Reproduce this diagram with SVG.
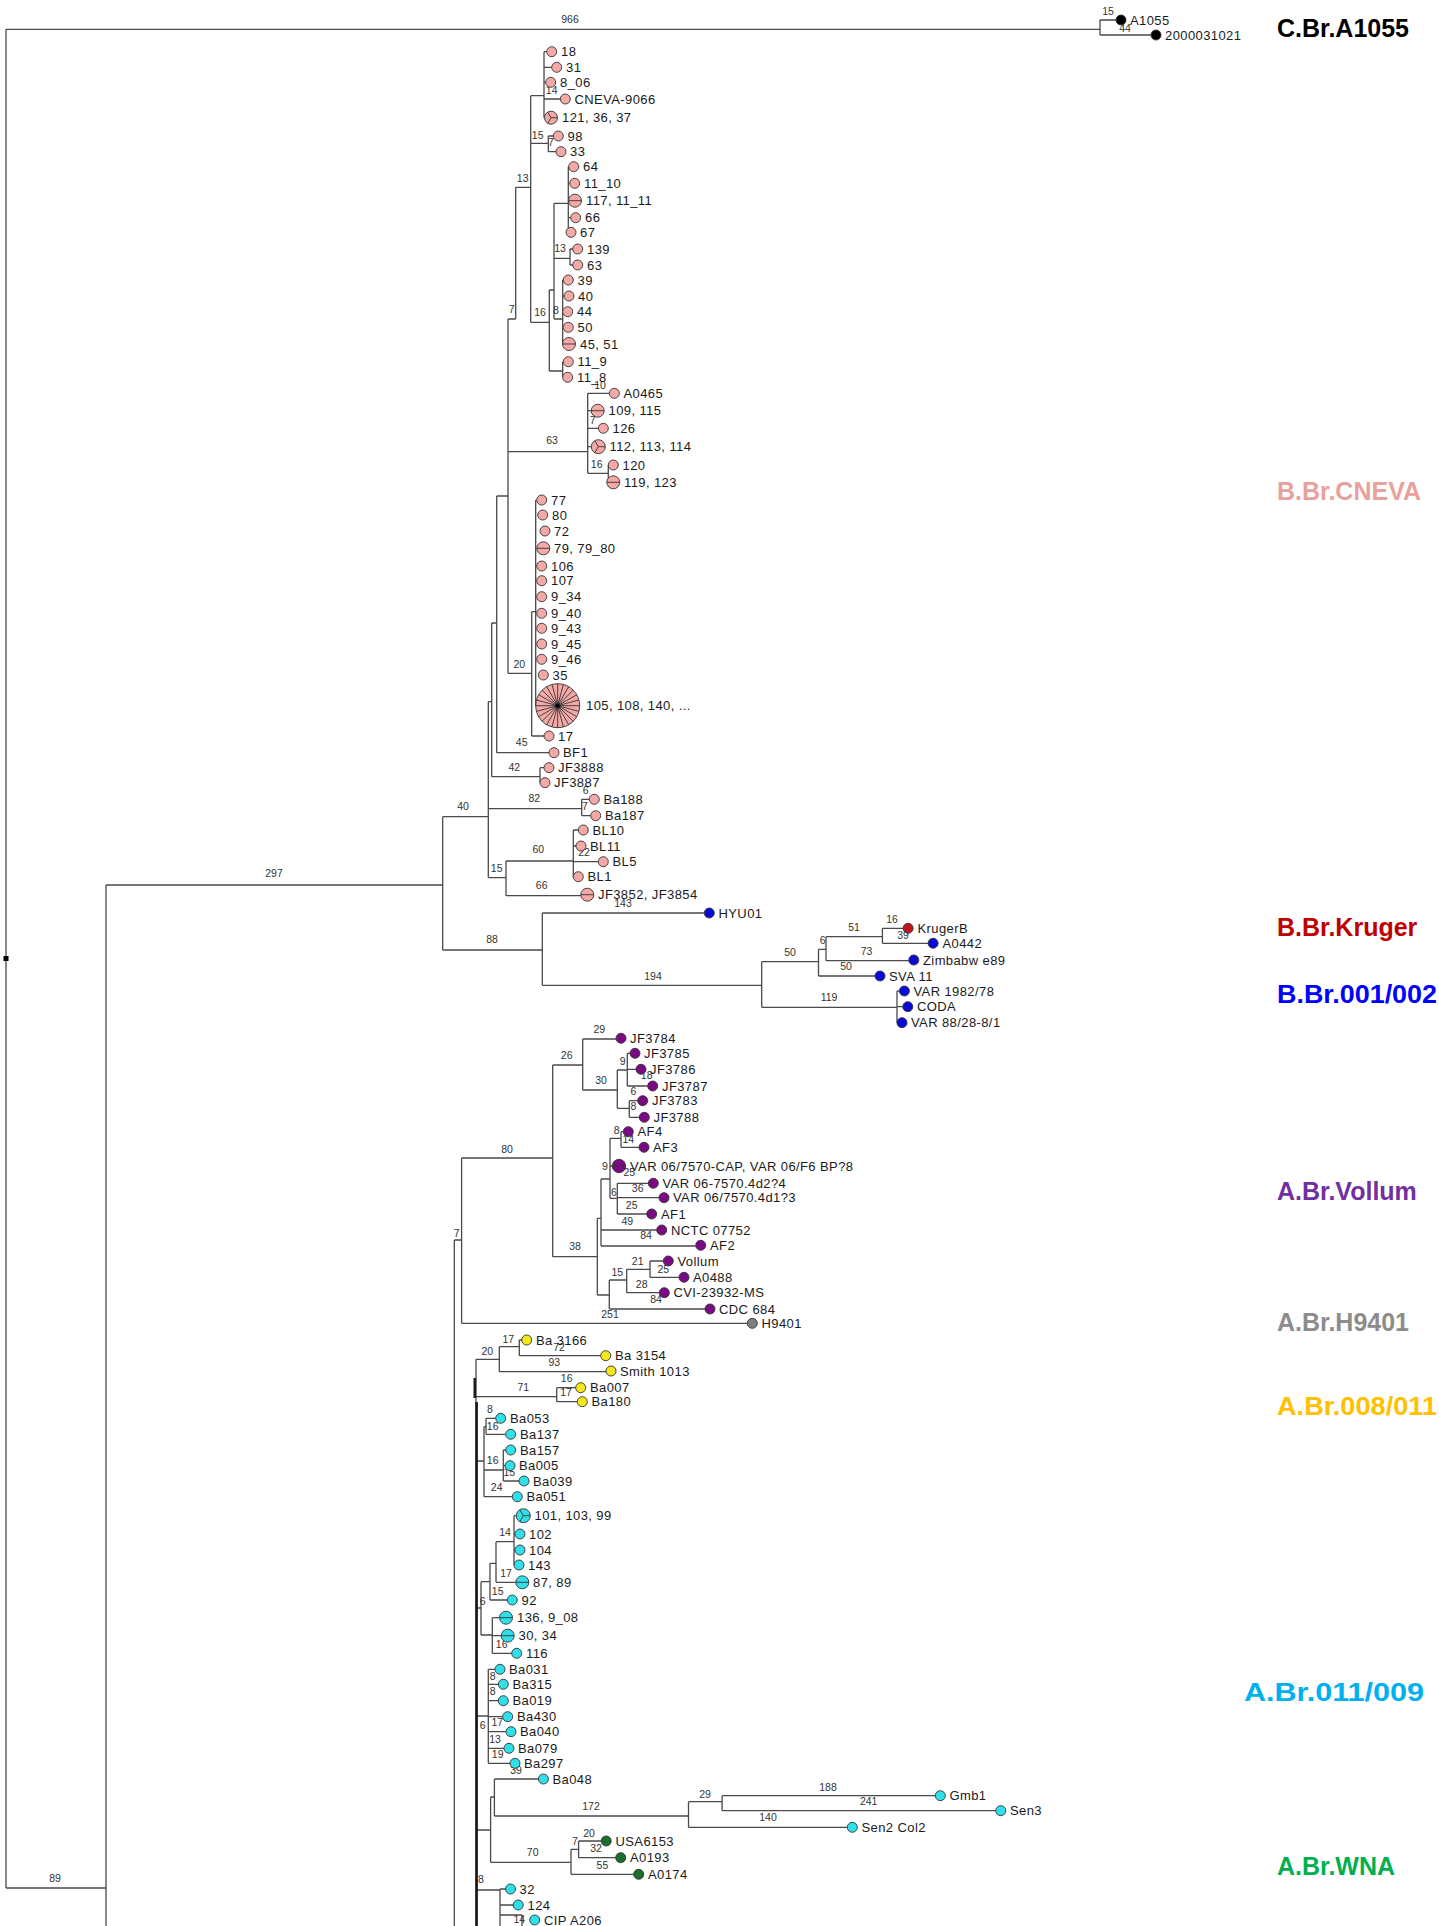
<svg xmlns="http://www.w3.org/2000/svg" width="1439" height="1926" viewBox="0 0 1439 1926">
<style>
.e{fill:none;stroke:#4a4a4a;stroke-width:1.3}
.bl{font-family:"Liberation Sans",Arial,sans-serif;font-size:10.5px;fill:#333;text-anchor:middle}
.lf{font-family:"Liberation Sans",Arial,sans-serif;font-size:13px;fill:#1a1a1a;letter-spacing:0.4px}
.cl{font-family:"Liberation Sans",Arial,sans-serif;font-size:25px;font-weight:bold}
circle{stroke:#333;stroke-width:0.9}
.p{fill:#f4a9a7}.b{fill:#0a0ad8}.r{fill:#c4121c}.v{fill:#7a0a84}.g{fill:#7f7f7f}.y{fill:#f6e61c}.c{fill:#30e0e8}.w{fill:#1b6e2c}.k{fill:#000}
.pl{fill:none;stroke:#333;stroke-width:0.9}
</style>
<rect width="1439" height="1926" fill="#fff"/>
<g id="connectors">
<path class="e" d="M6,29.3V1888M6,29.3H1100M1100,20V35M1100,20H1116M1100,35H1151M6,1888H106M106,885V1926M106,885H442.7
M442.7,816.7V950M442.7,816.7H488.3M442.7,950H542.3
M488.3,701.7V877.7M488.3,701.7H491.7M488.3,808.7H581.7M488.3,877.7H506
M491.7,623V776.7M491.7,623H496.7M491.7,776.7H540
M540,767.7V782.7M540,767.7H544
M496.7,496V752.7M496.7,496H508M496.7,752.7H549
M581.7,799.3V815.7M581.7,799.3H589.3M581.7,815.7H590.7
M506,861V895.7M506,861H573.3M506,895.7H580.8
M573.3,830V876.7M573.3,830H578.3M573.3,846H576M573.3,861.7H598.3
M508,319V673.3M508,319H515.7M508,451.7H587.7M508,673.3H531.7
M515.7,187.3V319M515.7,187.3H530.7
M530.7,95.7V322.3M530.7,95.7H544M530.7,143.3H548.3M530.7,322.3H549.3
M544,51.7V117.7M544,51.7H546.7M544,67.3H551.7M544,82.3H545.7M544,99H560.3
M548.3,136V151.7M548.3,136H553.3M548.3,151.7H556
M549.3,290V371M549.3,290H554M549.3,371H562.7
M554,203.3V319M554,203.3H568.3M554,258.3H570M554,319H562.7
M568.3,166.7V232.3M568.3,166.7H568.7M568.3,183.3H569.7M568.3,217.7H570.7
M570,249V265M570,249H572.7M570,265H572.7
M562.7,280V344M562.7,280H563.3M562.7,296H564M562.7,327.3H563.3
M562.7,361.7V377.3M562.7,361.7H563.3
M587.7,393.3V473.3M587.7,393.3H609.3M587.7,410.7H591.2M587.7,428.3H598.3M587.7,446.7H591.3M587.7,473.3H608.3
M608.3,465V482.3
M531.7,611.7V736M531.7,611.7H535.7M531.7,736H544
M535.7,500V705.7
M542.3,913V985.3M542.3,913H704.3M542.3,985.3H761.7
M761.7,961.7V1007.3M761.7,961.7H818.5M761.7,1007.3H897
M897,991V1022.7M897,991H899.4M897,1006.7H902.8
M818.5,949.3V976M818.5,949.3H826M818.5,976H875
M826,936.7V960.7M826,936.7H882.4M826,960.7H908.8
M882.4,928.3V943.3M882.4,928.3H903.1M882.4,943.3H928.1
M454.3,1240V1926M454.3,1240H461.6
M461.6,1158V1323.3M461.6,1158H552.7M461.6,1323.3H747.3
M552.7,1065V1256.7M552.7,1065H582.7M552.7,1256.7H597.3
M582.7,1039V1090M582.7,1039H616M582.7,1090H617.3
M617.3,1070V1108.3M617.3,1070H627.3M617.3,1108.3H629.3
M627.3,1053.3V1086M627.3,1053.3H630M627.3,1069.3H636M627.3,1086H647.7
M629.3,1100.7V1117.3M629.3,1100.7H637.7M629.3,1117.3H639.3
M597.3,1218.3V1295M597.3,1218.3H601M597.3,1295H609.3
M601,1179V1246M601,1179H610M601,1230H656.7M601,1246H695.7
M610,1138.3V1198.3M610,1138.3H621M610,1166H612.3M610,1198.3H617.3
M621,1131.7V1147.3M621,1131.7H623.3M621,1147.3H639
M617.3,1183.3V1214M617.3,1183.3H648.3M617.3,1197.7H659M617.3,1214H646.7
M609.3,1280V1309M609.3,1280H626.7M609.3,1309H705
M626.7,1269.3V1292.7M626.7,1269.3H650M626.7,1292.7H659.3
M650,1261V1277.3M650,1261H663.3M650,1277.3H679
M476,1359.3V1926M476,1359.3H499.3
M499.3,1346.7V1371.7M499.3,1346.7H519.3M499.3,1371.7H606
M519.3,1340V1355.7M519.3,1340H521.7M519.3,1355.7H600.7
M476,1396.7H556.7M556.7,1387.7V1401.7M556.7,1387.7H575.7M556.7,1401.7H577.3
M476,1461H484M484,1426.7V1496.7M484,1426.7H486M484,1470H503.3M484,1496.7H512.3
M486,1418.3V1434.3M486,1418.3H495.7M486,1434.3H505.7
M503.3,1450V1481M503.3,1450H505.7M503.3,1465.7H505M503.3,1481H519
M476,1608H481M481,1581.7V1635M481,1581.7H490M481,1635H492.3
M490,1563.3V1600M490,1563.3H496M490,1600H507.3
M496,1541.7V1582.3M496,1541.7H514M496,1582.3H515.8
M514,1515.7V1565M514,1515.7H516.3M514,1534H515M514,1550H515
M492.3,1617.7V1653.3M492.3,1617.7H499.5M492.3,1635.7H501.2M492.3,1653.3H511.7
M476,1716H488.3M488.3,1669.3V1763.3M488.3,1669.3H495M488.3,1684.3H498.3M488.3,1700.7H498.3M488.3,1716.7H502.7M488.3,1731.7H506M488.3,1748.3H504M488.3,1763.3H510
M476,1830H490.6M490.6,1797V1862.3M490.6,1797H494.4M490.6,1862.3H571
M494.4,1779V1816M494.4,1779H538.4M494.4,1816H688.5
M688.5,1801.7V1827.3M688.5,1801.7H722.1M688.5,1827.3H847.3
M722.1,1795.7V1810.7M722.1,1795.7H935.3M722.1,1810.7H995.8
M571,1849.3V1874.3M571,1849.3H578.6M571,1874.3H633.7
M578.6,1841V1857.7M578.6,1841H601.2M578.6,1857.7H615.7
M476,1890H500M500,1889V1926M500,1889H505.5M500,1905H513.2M500,1915H522M522,1915V1926"/>
<path d="M474.8,1378V1398M476.6,1402V1926" stroke="#1a1a1a" stroke-width="2.6" fill="none"/>
<rect x="3.5" y="956" width="5" height="5" fill="#000"/>
<g id="branch-labels">
<text class="bl" x="570" y="23">966</text>
<text class="bl" x="55" y="1882">89</text>
<text class="bl" x="274" y="877">297</text>
<text class="bl" x="463" y="810">40</text>
<text class="bl" x="492" y="943">88</text>
<text class="bl" x="534.3" y="802">82</text>
<text class="bl" x="496.7" y="872">15</text>
<text class="bl" x="514.3" y="771">42</text>
<text class="bl" x="521.7" y="746">45</text>
<text class="bl" x="585.7" y="794">6</text>
<text class="bl" x="585" y="810">7</text>
<text class="bl" x="538.3" y="853">60</text>
<text class="bl" x="541.7" y="889">66</text>
<text class="bl" x="584" y="856">22</text>
<text class="bl" x="511.7" y="313">7</text>
<text class="bl" x="552" y="444">63</text>
<text class="bl" x="519.3" y="668">20</text>
<text class="bl" x="522.7" y="182">13</text>
<text class="bl" x="537.7" y="139">15</text>
<text class="bl" x="540" y="316">16</text>
<text class="bl" x="551.7" y="94">14</text>
<text class="bl" x="551" y="146">7</text>
<text class="bl" x="560" y="252">13</text>
<text class="bl" x="556" y="314">8</text>
<text class="bl" x="600" y="389">10</text>
<text class="bl" x="592.7" y="424">7</text>
<text class="bl" x="596.7" y="468">16</text>
<text class="bl" x="623" y="907">143</text>
<text class="bl" x="653" y="980">194</text>
<text class="bl" x="790" y="956">50</text>
<text class="bl" x="829" y="1001">119</text>
<text class="bl" x="822.6" y="944">6</text>
<text class="bl" x="846" y="970">50</text>
<text class="bl" x="854" y="931">51</text>
<text class="bl" x="866.5" y="955">73</text>
<text class="bl" x="892" y="923">16</text>
<text class="bl" x="903" y="939">39</text>
<text class="bl" x="1108" y="15">15</text>
<text class="bl" x="1125" y="32">44</text>
<text class="bl" x="507" y="1153">80</text>
<text class="bl" x="456.7" y="1237">7</text>
<text class="bl" x="566.7" y="1059">26</text>
<text class="bl" x="575" y="1250">38</text>
<text class="bl" x="599.3" y="1033">29</text>
<text class="bl" x="601" y="1084">30</text>
<text class="bl" x="622.7" y="1065">9</text>
<text class="bl" x="646.7" y="1079">18</text>
<text class="bl" x="633.3" y="1095">6</text>
<text class="bl" x="633.3" y="1110">8</text>
<text class="bl" x="616.7" y="1134">8</text>
<text class="bl" x="628.3" y="1143">14</text>
<text class="bl" x="605" y="1170">9</text>
<text class="bl" x="629.3" y="1176">25</text>
<text class="bl" x="637.7" y="1192">36</text>
<text class="bl" x="614" y="1196">6</text>
<text class="bl" x="631.7" y="1209">25</text>
<text class="bl" x="627.3" y="1225">49</text>
<text class="bl" x="646" y="1239">84</text>
<text class="bl" x="637.7" y="1265">21</text>
<text class="bl" x="617.3" y="1276">15</text>
<text class="bl" x="663.3" y="1273">25</text>
<text class="bl" x="641.7" y="1288">28</text>
<text class="bl" x="656" y="1303">84</text>
<text class="bl" x="610" y="1318">251</text>
<text class="bl" x="508.3" y="1343">17</text>
<text class="bl" x="559" y="1351">72</text>
<text class="bl" x="487.3" y="1355">20</text>
<text class="bl" x="554.3" y="1366">93</text>
<text class="bl" x="566.7" y="1382">16</text>
<text class="bl" x="523.3" y="1391">71</text>
<text class="bl" x="566" y="1396">17</text>
<text class="bl" x="490" y="1413">8</text>
<text class="bl" x="492.7" y="1430">16</text>
<text class="bl" x="492.7" y="1464">16</text>
<text class="bl" x="509.3" y="1476">15</text>
<text class="bl" x="496.7" y="1491">24</text>
<text class="bl" x="505" y="1536">14</text>
<text class="bl" x="506" y="1577">17</text>
<text class="bl" x="497.7" y="1595">15</text>
<text class="bl" x="482.7" y="1605">6</text>
<text class="bl" x="501.7" y="1648">16</text>
<text class="bl" x="492.7" y="1680">8</text>
<text class="bl" x="492.7" y="1695">8</text>
<text class="bl" x="497.3" y="1726">17</text>
<text class="bl" x="482.7" y="1729">6</text>
<text class="bl" x="495" y="1743">13</text>
<text class="bl" x="497.7" y="1758">19</text>
<text class="bl" x="516" y="1774">39</text>
<text class="bl" x="591" y="1810">172</text>
<text class="bl" x="705" y="1798">29</text>
<text class="bl" x="828" y="1791">188</text>
<text class="bl" x="868.7" y="1805">241</text>
<text class="bl" x="768" y="1821">140</text>
<text class="bl" x="589" y="1837">20</text>
<text class="bl" x="574.8" y="1845">7</text>
<text class="bl" x="596" y="1852">32</text>
<text class="bl" x="532.7" y="1856">70</text>
<text class="bl" x="602.4" y="1869">55</text>
<text class="bl" x="481" y="1883">8</text>
<text class="bl" x="519.3" y="1923">14</text>
</g>
</g>
<g id="leaves">
<g id="n-A1055"><circle class="k" cx="1121" cy="20" r="5"/><text class="lf" x="1130" y="24.5">A1055</text></g>
<g id="n-2000031021"><circle class="k" cx="1156" cy="35" r="5"/><text class="lf" x="1165" y="39.5">2000031021</text></g>
<g id="n-18"><circle class="p" cx="551.7" cy="51.7" r="5"/><text class="lf" x="561" y="56.2">18</text></g>
<g id="n-31"><circle class="p" cx="556.7" cy="67.3" r="5"/><text class="lf" x="566" y="71.8">31</text></g>
<g id="n-8_06"><circle class="p" cx="550.7" cy="82.3" r="5"/><text class="lf" x="560" y="86.8">8_06</text></g>
<g id="n-CNEVA-9066"><circle class="p" cx="565.3" cy="99" r="5"/><text class="lf" x="574.5" y="103.5">CNEVA-9066</text></g>
<g id="n-121"><circle class="p" cx="551" cy="117.7" r="6.5"/><path class="pl" d="M551,117.7h6.5M551,117.7l-3.25,5.63M551,117.7l-3.25,-5.63"/><text class="lf" x="562" y="122.2">121, 36, 37</text></g>
<g id="n-98"><circle class="p" cx="558.3" cy="136" r="5"/><text class="lf" x="567.5" y="140.5">98</text></g>
<g id="n-33"><circle class="p" cx="561" cy="151.7" r="5"/><text class="lf" x="570" y="156.2">33</text></g>
<g id="n-64"><circle class="p" cx="573.7" cy="166.7" r="5"/><text class="lf" x="583" y="171.2">64</text></g>
<g id="n-11_10"><circle class="p" cx="574.7" cy="183.3" r="5"/><text class="lf" x="584" y="187.8">11_10</text></g>
<g id="n-117"><circle class="p" cx="575" cy="200.7" r="6.5"/><path class="pl" d="M568.5,200.7h13"/><text class="lf" x="586" y="205.2">117, 11_11</text></g>
<g id="n-66"><circle class="p" cx="575.7" cy="217.7" r="5"/><text class="lf" x="585" y="222.2">66</text></g>
<g id="n-67"><circle class="p" cx="571" cy="232.3" r="5"/><text class="lf" x="580" y="236.8">67</text></g>
<g id="n-139"><circle class="p" cx="577.7" cy="249" r="5"/><text class="lf" x="587" y="253.5">139</text></g>
<g id="n-63"><circle class="p" cx="577.7" cy="265" r="5"/><text class="lf" x="587" y="269.5">63</text></g>
<g id="n-39"><circle class="p" cx="568.3" cy="280" r="5"/><text class="lf" x="577.5" y="284.5">39</text></g>
<g id="n-40"><circle class="p" cx="569" cy="296" r="5"/><text class="lf" x="578" y="300.5">40</text></g>
<g id="n-44"><circle class="p" cx="567.7" cy="311.7" r="5"/><text class="lf" x="577" y="316.2">44</text></g>
<g id="n-50"><circle class="p" cx="568.3" cy="327.3" r="5"/><text class="lf" x="577.5" y="331.8">50</text></g>
<g id="n-45"><circle class="p" cx="569" cy="344" r="6.5"/><path class="pl" d="M562.5,344h13"/><text class="lf" x="580" y="348.5">45, 51</text></g>
<g id="n-11_9"><circle class="p" cx="568.3" cy="361.7" r="5"/><text class="lf" x="577.5" y="366.2">11_9</text></g>
<g id="n-11_8"><circle class="p" cx="567.7" cy="377.3" r="5"/><text class="lf" x="577" y="381.8">11_8</text></g>
<g id="n-A0465"><circle class="p" cx="614.3" cy="393.3" r="5"/><text class="lf" x="623.5" y="397.8">A0465</text></g>
<g id="n-109"><circle class="p" cx="597.7" cy="410.7" r="6.5"/><path class="pl" d="M591.2,410.7h13"/><text class="lf" x="608.5" y="415.2">109, 115</text></g>
<g id="n-126"><circle class="p" cx="603.3" cy="428.3" r="5"/><text class="lf" x="612.5" y="432.8">126</text></g>
<g id="n-112"><circle class="p" cx="598.3" cy="446.7" r="7"/><path class="pl" d="M598.3,446.7h7M598.3,446.7l-3.5,6.06M598.3,446.7l-3.5,-6.06"/><text class="lf" x="609.5" y="451.2">112, 113, 114</text></g>
<g id="n-120"><circle class="p" cx="613.3" cy="465" r="5"/><text class="lf" x="622.5" y="469.5">120</text></g>
<g id="n-119"><circle class="p" cx="613.3" cy="482.3" r="6.5"/><path class="pl" d="M606.8,482.3h13"/><text class="lf" x="624" y="486.8">119, 123</text></g>
<g id="n-77"><circle class="p" cx="541.7" cy="500" r="5"/><text class="lf" x="551" y="504.5">77</text></g>
<g id="n-80"><circle class="p" cx="542.7" cy="515" r="5"/><text class="lf" x="552" y="519.5">80</text></g>
<g id="n-72"><circle class="p" cx="545" cy="531" r="5"/><text class="lf" x="554" y="535.5">72</text></g>
<g id="n-79"><circle class="p" cx="543.3" cy="548.3" r="6.5"/><path class="pl" d="M536.8,548.3h13"/><text class="lf" x="554" y="552.8">79, 79_80</text></g>
<g id="n-106"><circle class="p" cx="541.7" cy="566" r="5"/><text class="lf" x="551" y="570.5">106</text></g>
<g id="n-107"><circle class="p" cx="541.7" cy="580.7" r="5"/><text class="lf" x="551" y="585.2">107</text></g>
<g id="n-9_34"><circle class="p" cx="541.7" cy="596.7" r="5"/><text class="lf" x="551" y="601.2">9_34</text></g>
<g id="n-9_40"><circle class="p" cx="541.7" cy="613.3" r="5"/><text class="lf" x="551" y="617.8">9_40</text></g>
<g id="n-9_43"><circle class="p" cx="541.7" cy="628.3" r="5"/><text class="lf" x="551" y="632.8">9_43</text></g>
<g id="n-9_45"><circle class="p" cx="541.7" cy="644" r="5"/><text class="lf" x="551" y="648.5">9_45</text></g>
<g id="n-9_46"><circle class="p" cx="541.7" cy="659.3" r="5"/><text class="lf" x="551" y="663.8">9_46</text></g>
<g id="n-35"><circle class="p" cx="543.3" cy="675" r="5"/><text class="lf" x="552.5" y="679.5">35</text></g>
<g id="n-105"><circle class="p" cx="557.7" cy="705.7" r="22"/><path class="pl" d="M579.7,705.7L535.7,705.7M578.95,711.39L536.45,700.01M576.75,716.7L538.65,694.7M573.26,721.26L542.14,690.14M568.7,724.75L546.7,686.65M563.39,726.95L552.01,684.45M557.7,727.7L557.7,683.7M552.01,726.95L563.39,684.45M546.7,724.75L568.7,686.65M542.14,721.26L573.26,690.14M538.65,716.7L576.75,694.7M536.45,711.39L578.95,700.01"/><circle cx="557.7" cy="705.7" r="2.5" fill="#000"/><text class="lf" x="586" y="710.2">105, 108, 140, ...</text></g>
<g id="n-17"><circle class="p" cx="549" cy="736" r="5"/><text class="lf" x="558" y="740.5">17</text></g>
<g id="n-BF1"><circle class="p" cx="554" cy="752.7" r="5"/><text class="lf" x="563" y="757.2">BF1</text></g>
<g id="n-JF3888"><circle class="p" cx="549" cy="767.7" r="5"/><text class="lf" x="558" y="772.2">JF3888</text></g>
<g id="n-JF3887"><circle class="p" cx="545" cy="782.7" r="5"/><text class="lf" x="554" y="787.2">JF3887</text></g>
<g id="n-Ba188"><circle class="p" cx="594.3" cy="799.3" r="5"/><text class="lf" x="603.5" y="803.8">Ba188</text></g>
<g id="n-Ba187"><circle class="p" cx="595.7" cy="815.7" r="5"/><text class="lf" x="605" y="820.2">Ba187</text></g>
<g id="n-BL10"><circle class="p" cx="583.3" cy="830" r="5"/><text class="lf" x="592.5" y="834.5">BL10</text></g>
<g id="n-BL11"><circle class="p" cx="581" cy="846" r="5"/><text class="lf" x="590" y="850.5">BL11</text></g>
<g id="n-BL5"><circle class="p" cx="603.3" cy="861.7" r="5"/><text class="lf" x="612.5" y="866.2">BL5</text></g>
<g id="n-BL1"><circle class="p" cx="578.3" cy="876.7" r="5"/><text class="lf" x="587.5" y="881.2">BL1</text></g>
<g id="n-JF3852"><circle class="p" cx="587.3" cy="894.7" r="6.5"/><path class="pl" d="M580.8,894.7h13"/><text class="lf" x="598" y="899.2">JF3852, JF3854</text></g>
<g id="n-HYU01"><circle class="b" cx="709.3" cy="913" r="5"/><text class="lf" x="718.5" y="917.5">HYU01</text></g>
<g id="n-KrugerB"><circle class="r" cx="908.1" cy="928.3" r="5"/><text class="lf" x="917.5" y="932.8">KrugerB</text></g>
<g id="n-A0442"><circle class="b" cx="933.1" cy="943.3" r="5"/><text class="lf" x="942.5" y="947.8">A0442</text></g>
<g id="n-Zimbabwe89"><circle class="b" cx="913.8" cy="960" r="5"/><text class="lf" x="923" y="964.5">Zimbabw e89</text></g>
<g id="n-SVA11"><circle class="b" cx="880" cy="976" r="5"/><text class="lf" x="889" y="980.5">SVA 11</text></g>
<g id="n-VAR1982"><circle class="b" cx="904.4" cy="991" r="5"/><text class="lf" x="913.5" y="995.5">VAR 1982/78</text></g>
<g id="n-CODA"><circle class="b" cx="907.8" cy="1006.7" r="5"/><text class="lf" x="917" y="1011.2">CODA</text></g>
<g id="n-VAR88"><circle class="b" cx="902" cy="1022.7" r="5"/><text class="lf" x="911" y="1027.2">VAR 88/28-8/1</text></g>
<g id="n-JF3784"><circle class="v" cx="621" cy="1038.3" r="5"/><text class="lf" x="630" y="1042.8">JF3784</text></g>
<g id="n-JF3785"><circle class="v" cx="635" cy="1053.3" r="5"/><text class="lf" x="644" y="1057.8">JF3785</text></g>
<g id="n-JF3786"><circle class="v" cx="641" cy="1069.3" r="5"/><text class="lf" x="650" y="1073.8">JF3786</text></g>
<g id="n-JF3787"><circle class="v" cx="652.7" cy="1086" r="5"/><text class="lf" x="662" y="1090.5">JF3787</text></g>
<g id="n-JF3783"><circle class="v" cx="642.7" cy="1100.7" r="5"/><text class="lf" x="652" y="1105.2">JF3783</text></g>
<g id="n-JF3788"><circle class="v" cx="644.3" cy="1117.3" r="5"/><text class="lf" x="653.5" y="1121.8">JF3788</text></g>
<g id="n-AF4"><circle class="v" cx="628.3" cy="1131.7" r="5"/><text class="lf" x="637.5" y="1136.2">AF4</text></g>
<g id="n-AF3"><circle class="v" cx="644" cy="1147.3" r="5"/><text class="lf" x="653" y="1151.8">AF3</text></g>
<g id="n-VARCAP"><circle class="v" cx="619" cy="1166" r="6.7"/><path class="pl" d="M612.3,1166h13.4"/><text class="lf" x="630" y="1170.5">VAR 06/7570-CAP, VAR 06/F6 BP?8</text></g>
<g id="n-4d2"><circle class="v" cx="653.3" cy="1183.3" r="5"/><text class="lf" x="662.5" y="1187.8">VAR 06-7570.4d2?4</text></g>
<g id="n-4d1"><circle class="v" cx="664" cy="1197.7" r="5"/><text class="lf" x="673" y="1202.2">VAR 06/7570.4d1?3</text></g>
<g id="n-AF1"><circle class="v" cx="651.7" cy="1214" r="5"/><text class="lf" x="661" y="1218.5">AF1</text></g>
<g id="n-NCTC"><circle class="v" cx="661.7" cy="1230" r="5"/><text class="lf" x="671" y="1234.5">NCTC 07752</text></g>
<g id="n-AF2"><circle class="v" cx="700.7" cy="1245.3" r="5"/><text class="lf" x="710" y="1249.8">AF2</text></g>
<g id="n-Vollum"><circle class="v" cx="668.3" cy="1261" r="5"/><text class="lf" x="677.5" y="1265.5">Vollum</text></g>
<g id="n-A0488"><circle class="v" cx="684" cy="1277.3" r="5"/><text class="lf" x="693" y="1281.8">A0488</text></g>
<g id="n-CVI"><circle class="v" cx="664.3" cy="1292.7" r="5"/><text class="lf" x="673.5" y="1297.2">CVI-23932-MS</text></g>
<g id="n-CDC684"><circle class="v" cx="710" cy="1309" r="5"/><text class="lf" x="719" y="1313.5">CDC 684</text></g>
<g id="n-H9401"><circle class="g" cx="752.3" cy="1323.3" r="5"/><text class="lf" x="761.5" y="1327.8">H9401</text></g>
<g id="n-Ba3166"><circle class="y" cx="526.7" cy="1340" r="5"/><text class="lf" x="536" y="1344.5">Ba 3166</text></g>
<g id="n-Ba3154"><circle class="y" cx="605.7" cy="1355.7" r="5"/><text class="lf" x="615" y="1360.2">Ba 3154</text></g>
<g id="n-Smith1013"><circle class="y" cx="611" cy="1371" r="5"/><text class="lf" x="620" y="1375.5">Smith 1013</text></g>
<g id="n-Ba007"><circle class="y" cx="580.7" cy="1387.7" r="5"/><text class="lf" x="590" y="1392.2">Ba007</text></g>
<g id="n-Ba180"><circle class="y" cx="582.3" cy="1401.7" r="5"/><text class="lf" x="591.5" y="1406.2">Ba180</text></g>
<g id="n-Ba053"><circle class="c" cx="500.7" cy="1418.3" r="5"/><text class="lf" x="510" y="1422.8">Ba053</text></g>
<g id="n-Ba137"><circle class="c" cx="510.7" cy="1434.3" r="5"/><text class="lf" x="520" y="1438.8">Ba137</text></g>
<g id="n-Ba157"><circle class="c" cx="510.7" cy="1450" r="5"/><text class="lf" x="520" y="1454.5">Ba157</text></g>
<g id="n-Ba005"><circle class="c" cx="510" cy="1465.7" r="5"/><text class="lf" x="519" y="1470.2">Ba005</text></g>
<g id="n-Ba039"><circle class="c" cx="524" cy="1481" r="5"/><text class="lf" x="533" y="1485.5">Ba039</text></g>
<g id="n-Ba051"><circle class="c" cx="517.3" cy="1496.7" r="5"/><text class="lf" x="526.5" y="1501.2">Ba051</text></g>
<g id="n-101"><circle class="c" cx="523.3" cy="1515.7" r="7"/><path class="pl" d="M523.3,1515.7h7M523.3,1515.7l-3.5,6.06M523.3,1515.7l-3.5,-6.06"/><text class="lf" x="534.5" y="1520.2">101, 103, 99</text></g>
<g id="n-102"><circle class="c" cx="520" cy="1534" r="5"/><text class="lf" x="529" y="1538.5">102</text></g>
<g id="n-104"><circle class="c" cx="520" cy="1550" r="5"/><text class="lf" x="529" y="1554.5">104</text></g>
<g id="n-143"><circle class="c" cx="519" cy="1565" r="5"/><text class="lf" x="528" y="1569.5">143</text></g>
<g id="n-87"><circle class="c" cx="522.3" cy="1582.3" r="6.5"/><path class="pl" d="M515.8,1582.3h13"/><text class="lf" x="533" y="1586.8">87, 89</text></g>
<g id="n-92"><circle class="c" cx="512.3" cy="1600" r="5"/><text class="lf" x="521.5" y="1604.5">92</text></g>
<g id="n-136"><circle class="c" cx="506" cy="1617.7" r="6.5"/><path class="pl" d="M499.5,1617.7h13"/><text class="lf" x="517" y="1622.2">136, 9_08</text></g>
<g id="n-30"><circle class="c" cx="507.7" cy="1635.7" r="6.5"/><path class="pl" d="M501.2,1635.7h13"/><text class="lf" x="518.5" y="1640.2">30, 34</text></g>
<g id="n-116"><circle class="c" cx="516.7" cy="1653.3" r="5"/><text class="lf" x="526" y="1657.8">116</text></g>
<g id="n-Ba031"><circle class="c" cx="500" cy="1669.3" r="5"/><text class="lf" x="509" y="1673.8">Ba031</text></g>
<g id="n-Ba315"><circle class="c" cx="503.3" cy="1684.3" r="5"/><text class="lf" x="512.5" y="1688.8">Ba315</text></g>
<g id="n-Ba019"><circle class="c" cx="503.3" cy="1700.7" r="5"/><text class="lf" x="512.5" y="1705.2">Ba019</text></g>
<g id="n-Ba430"><circle class="c" cx="507.7" cy="1716.7" r="5"/><text class="lf" x="517" y="1721.2">Ba430</text></g>
<g id="n-Ba040"><circle class="c" cx="511" cy="1731.7" r="5"/><text class="lf" x="520" y="1736.2">Ba040</text></g>
<g id="n-Ba079"><circle class="c" cx="509" cy="1748.3" r="5"/><text class="lf" x="518" y="1752.8">Ba079</text></g>
<g id="n-Ba297"><circle class="c" cx="515" cy="1763.3" r="5"/><text class="lf" x="524" y="1767.8">Ba297</text></g>
<g id="n-Ba048"><circle class="c" cx="543.4" cy="1779" r="5"/><text class="lf" x="552.5" y="1783.5">Ba048</text></g>
<g id="n-Gmb1"><circle class="c" cx="940.3" cy="1795.7" r="5"/><text class="lf" x="949.5" y="1800.2">Gmb1</text></g>
<g id="n-Sen3"><circle class="c" cx="1000.8" cy="1810.7" r="5"/><text class="lf" x="1010" y="1815.2">Sen3</text></g>
<g id="n-Sen2"><circle class="c" cx="852.3" cy="1827.3" r="5"/><text class="lf" x="861.5" y="1831.8">Sen2 Col2</text></g>
<g id="n-USA6153"><circle class="w" cx="606.2" cy="1841" r="5"/><text class="lf" x="615.5" y="1845.5">USA6153</text></g>
<g id="n-A0193"><circle class="w" cx="620.7" cy="1857.7" r="5"/><text class="lf" x="630" y="1862.2">A0193</text></g>
<g id="n-A0174"><circle class="w" cx="638.7" cy="1874.3" r="5"/><text class="lf" x="648" y="1878.8">A0174</text></g>
<g id="n-32"><circle class="c" cx="510.5" cy="1889" r="5"/><text class="lf" x="519.5" y="1893.5">32</text></g>
<g id="n-124"><circle class="c" cx="518.2" cy="1905" r="5"/><text class="lf" x="527.5" y="1909.5">124</text></g>
<g id="n-CIPA206"><circle class="c" cx="534.7" cy="1920" r="5"/><text class="lf" x="544" y="1924.5">CIP A206</text></g>
</g>
<g id="clade-labels">
<text class="cl" x="1277" y="37" fill="#000">C.Br.A1055</text>
<text class="cl" x="1277" y="500" fill="#e8a19c">B.Br.CNEVA</text>
<text class="cl" x="1277" y="936" fill="#c00000">B.Br.Kruger</text>
<text class="cl" x="1277" y="1003" fill="#0000ff" textLength="160" lengthAdjust="spacingAndGlyphs">B.Br.001/002</text>
<text class="cl" x="1277" y="1200" fill="#7030a0">A.Br.Vollum</text>
<text class="cl" x="1277" y="1331" fill="#8c8c8c">A.Br.H9401</text>
<text class="cl" x="1277" y="1415" fill="#ffc000" textLength="160" lengthAdjust="spacingAndGlyphs">A.Br.008/011</text>
<text class="cl" x="1244" y="1701" fill="#00b0f0" textLength="180" lengthAdjust="spacingAndGlyphs">A.Br.011/009</text>
<text class="cl" x="1277" y="1875" fill="#00b050">A.Br.WNA</text>
</g>
</svg>
